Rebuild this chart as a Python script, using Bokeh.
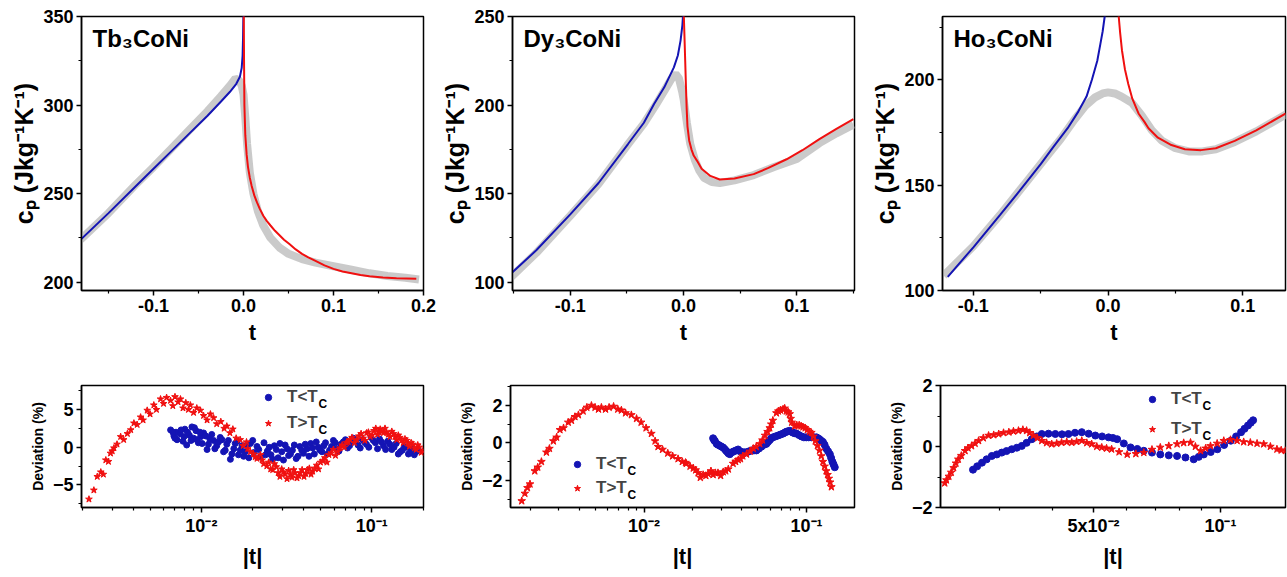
from bokeh.plotting import figure
from bokeh.layouts import column, row
from bokeh.models import Range1d, FixedTicker, Label, Legend, LegendItem, CustomJSTickFormatter
from bokeh.embed import file_html
from bokeh.resources import INLINE

FONT = "Liberation Sans"
BLUE = "#1414b4"
RED = "#f01010"
GRAY = "#c4c4c4"

# ---------------- top panels: c_p vs t ----------------
tb_gray_t = [-0.181, -0.15, -0.12, -0.1, -0.08, -0.06, -0.04, -0.025, -0.015, -0.009, -0.005, -0.002, 0.0, 0.002, 0.004, 0.007, 0.011, 0.016, 0.022, 0.03, 0.04, 0.05, 0.065, 0.08, 0.1, 0.12, 0.14, 0.16, 0.18, 0.195]
tb_gray_cp = [224, 239, 255, 265, 275.5, 286, 296.5, 305, 311, 315, 314, 311, 306, 293, 278, 262, 250, 240, 232, 225, 219.5, 216, 213, 211, 209, 207, 205, 203.5, 202.5, 201.5]
tb_blue_t = [-0.18, -0.15, -0.12, -0.1, -0.08, -0.06, -0.04, -0.025, -0.015, -0.008, -0.004, -0.002, -0.001, -0.0005, -0.0001]
tb_blue_cp = [224.5, 239, 254, 264, 274, 284, 294, 302, 307.5, 312, 316, 321, 328, 338, 352]
tb_red_t = [0.0003, 0.0006, 0.001, 0.002, 0.0035, 0.005, 0.007, 0.009, 0.012, 0.015, 0.018, 0.022, 0.026, 0.03, 0.035, 0.04, 0.045, 0.051, 0.058, 0.065, 0.072, 0.08, 0.09, 0.1, 0.11, 0.12, 0.13, 0.14, 0.155, 0.17, 0.192]
tb_red_cp = [352, 325, 300, 283, 272, 265, 259, 254.5, 249, 245, 241.5, 237.5, 234.5, 232, 229, 226.5, 224, 221.5, 218.5, 216, 214, 212, 209.5, 207.5, 206, 205, 204, 203.3, 202.6, 202.2, 202]

dy_gray_t = [-0.152, -0.13, -0.1, -0.075, -0.05, -0.035, -0.025, -0.017, -0.011, -0.007, -0.004, -0.001, 0.0003, 0.003, 0.006, 0.01, 0.014, 0.018, 0.025, 0.032, 0.045, 0.062, 0.08, 0.1, 0.12, 0.135, 0.15]
dy_gray_cp = [103, 116.5, 137.5, 155.5, 177, 189.5, 199.5, 208, 214.5, 217.6, 215, 207, 202.5, 190, 178, 169, 163, 159, 156.5, 156, 157.5, 160.5, 165, 169.5, 178.5, 184, 189]
dy_blue_t = [-0.152, -0.13, -0.1, -0.075, -0.049, -0.035, -0.026, -0.017, -0.0085, -0.005, -0.0026, -0.001, -0.0003]
dy_blue_cp = [105, 118, 138.3, 156, 178, 190, 200.6, 210, 221.3, 228, 236.4, 245, 252]
dy_red_t = [0.0002, 0.0008, 0.0015, 0.0022, 0.0028, 0.0035, 0.005, 0.007, 0.009, 0.012, 0.016, 0.0237, 0.032, 0.045, 0.062, 0.075, 0.091, 0.105, 0.12, 0.135, 0.15]
dy_red_cp = [252, 240, 225, 210, 198, 188, 180, 175, 171.5, 168.5, 164, 160, 158, 158.5, 161, 164.5, 169.4, 174.5, 180.8, 186.5, 192]

ho_gray_t = [-0.122, -0.1, -0.08, -0.06, -0.045, -0.035, -0.025, -0.017, -0.01, -0.004, 0.0, 0.005, 0.01, 0.0177, 0.025, 0.0325, 0.04, 0.05, 0.06, 0.07, 0.08, 0.094, 0.11, 0.132]
ho_gray_cp = [107, 121, 136, 152, 164, 172, 181, 187.5, 191.5, 193.5, 194, 193.5, 192, 189, 183, 176, 171, 167.5, 166, 166, 167, 170.5, 175.5, 183.5]
ho_blue_t = [-0.119, -0.1, -0.08, -0.066, -0.05, -0.041, -0.03, -0.022, -0.016, -0.012, -0.008, -0.0057, -0.004, -0.0025, -0.0015]
ho_blue_cp = [106.5, 120.5, 136, 147, 160, 167.8, 177, 185, 192, 200, 209, 217, 223, 230, 240]
ho_red_t = [0.0065, 0.0079, 0.009, 0.0103, 0.0125, 0.015, 0.018, 0.0226, 0.027, 0.03, 0.037, 0.047, 0.057, 0.069, 0.08, 0.094, 0.11, 0.132]
ho_red_cp = [240, 230, 222, 214, 205, 198, 191, 184, 180, 177, 172.5, 169, 167, 166.6, 167.5, 171, 176, 184]

# ---------------- bottom panels: deviation vs |t| ----------------
tb_dev_red_t = [0.00219, 0.00234, 0.00245, 0.00257, 0.00266, 0.00275, 0.00285, 0.00293, 0.00300, 0.00307, 0.00320, 0.00336, 0.00350, 0.00368, 0.00385, 0.00402, 0.00420, 0.00440, 0.00455, 0.00481, 0.00500, 0.00526, 0.00545, 0.00576, 0.00600, 0.00625, 0.00659, 0.00680, 0.00700, 0.00730, 0.00754, 0.00780, 0.00810, 0.00840, 0.00862, 0.00900, 0.00940, 0.00987, 0.0103, 0.0108, 0.0113, 0.0118, 0.0123, 0.0130, 0.0136, 0.0141, 0.0147, 0.0153, 0.0160, 0.0169, 0.0176, 0.0184, 0.0194, 0.0202, 0.0212, 0.0222, 0.0232, 0.0242, 0.0255, 0.0268, 0.0282, 0.0296, 0.0310, 0.0325, 0.0340, 0.0355, 0.0372, 0.0390, 0.0410, 0.0430, 0.0450, 0.0475, 0.0500, 0.0530, 0.0560, 0.0595, 0.0630, 0.0670, 0.0710, 0.0743, 0.0790, 0.0840, 0.0890, 0.0932, 0.0980, 0.1030, 0.1080, 0.1120, 0.1170, 0.1220, 0.1280, 0.1340, 0.1400, 0.1460, 0.1530, 0.1600, 0.1660, 0.1740, 0.1820, 0.1900, 0.1990,
                0.0187, 0.0207, 0.0227, 0.0248, 0.0262, 0.0275, 0.0289, 0.0303, 0.0318, 0.0333, 0.0348, 0.0364, 0.0381, 0.0400, 0.0420, 0.0440, 0.0462, 0.0487, 0.0515, 0.0545, 0.0577, 0.0612, 0.0650, 0.0690, 0.0727, 0.0765, 0.0815, 0.0865, 0.0910, 0.0955, 0.1005, 0.1055, 0.1100, 0.1145, 0.1195, 0.1250, 0.1310, 0.1370, 0.1430, 0.1495, 0.1565, 0.1630, 0.1700, 0.1780, 0.1860, 0.1950]
tb_dev_red = [-6.9, -5.7, -3.9, -3.3, -3.6, -1.7, -1.9, -0.8, -0.5, -0.1, 0.4, 1.4, 1.0, 1.8, 2.3, 3.2, 3.0, 4.0, 3.6, 4.9, 4.4, 5.6, 5.0, 6.4, 5.8, 6.6, 6.2, 5.5, 6.7, 6.0, 6.4, 5.2, 5.9, 5.0, 5.6, 4.6, 5.2, 4.9, 4.2, 3.6, 4.4, 3.9, 3.1, 3.4, 2.5, 2.8, 1.9, 2.4, 1.2, 1.0, 0.2, 0.7, -0.6, -0.9, -1.5, -1.0, -2.2, -2.5, -2.9, -2.2, -3.4, -2.9, -3.6, -3.1, -4.0, -3.4, -3.8, -3.0, -3.5, -2.8, -3.2, -2.4, -2.0, -1.4, -1.0, -0.3, -0.6, 0.3, 0.6, 1.0, 0.6, 1.5, 1.2, 1.9, 1.4, 2.2, 1.7, 2.4, 1.9, 2.0, 1.4, 1.8, 1.0, 1.3, 0.6, 0.9, 0.1, 0.4, -0.3, 0.0, -0.5,
              -0.2, -1.3, -1.7, -2.0, -3.0, -2.6, -3.9, -3.3, -4.2, -3.6, -3.0, -4.1, -3.4, -3.9, -3.0, -3.6, -2.8, -2.9, -1.8, -2.0, -0.8, -1.1, -0.1, 0.0, 0.7, 1.3, 1.0, 1.8, 0.9, 2.0, 1.6, 2.5, 2.0, 2.1, 2.5, 1.7, 2.1, 1.4, 1.6, 0.9, 1.1, 0.5, 0.6, -0.1, 0.3, -0.7]
tb_dev_blue_t = [0.0066, 0.0069, 0.0071, 0.0072, 0.0075, 0.0078, 0.0080, 0.0082, 0.0085, 0.0088, 0.0090, 0.0093, 0.0096, 0.0099, 0.0103, 0.0108, 0.0112, 0.0118, 0.0123, 0.0129, 0.0135, 0.0141, 0.0148, 0.0155, 0.0162, 0.0169, 0.0177, 0.0185, 0.0194, 0.0203, 0.0212, 0.0222, 0.0233, 0.0244, 0.0256, 0.0268, 0.0282, 0.0296, 0.0310, 0.0325, 0.0342, 0.0360, 0.0378, 0.0397, 0.0417, 0.0438, 0.0460, 0.0485, 0.0510, 0.0535, 0.0565, 0.0595, 0.0625, 0.0660, 0.0700, 0.0740, 0.0780, 0.0830, 0.0880, 0.0930, 0.0990, 0.1050, 0.1110, 0.1170, 0.1240, 0.1310, 0.1390, 0.1470, 0.1550, 0.1640, 0.1730, 0.1820,
                 0.0068, 0.0070, 0.0076, 0.0079, 0.0083, 0.0087, 0.0091, 0.0094, 0.0098, 0.0101, 0.0106, 0.0110, 0.0115, 0.0120, 0.0126, 0.0132, 0.0138, 0.0144, 0.0151, 0.0158, 0.0165, 0.0173, 0.0181, 0.0190,
                 0.0200, 0.0217, 0.0238, 0.0250, 0.0262, 0.0275, 0.0289, 0.0303, 0.0318, 0.0333, 0.0351, 0.0369, 0.0388, 0.0407, 0.0428, 0.0449, 0.0472, 0.0497, 0.0522, 0.0550, 0.0580, 0.0610, 0.0642, 0.0680, 0.0720, 0.0760, 0.0805, 0.0855, 0.0905, 0.0960, 0.1020, 0.1080, 0.1140, 0.1205, 0.1275, 0.1350, 0.1430, 0.1510, 0.1595, 0.1685, 0.1775, 0.1870]
tb_dev_blue = [2.3, 1.5, 2.0, 1.0, 1.8, 0.8, 2.4, 0.3, 1.6, 2.7, 1.2, 2.2, 0.6, 1.4, 1.9, -0.3, 1.1, 0.9, 0.2, 1.3, -0.6, 0.4, -1.6, -0.2, 0.8, -0.4, -1.2, 0.3, 0.5, -0.7, 0.1, -1.3, 0.6, -0.5, -1.0, 0.2, -1.4, -0.6, 0.3, -1.1, -0.4, -1.5, 0.1, -0.8, -0.2, 0.5, -0.9, 0.0, -0.6, 0.6, -0.4, 0.9, -0.2, 0.4, 1.0, 0.2, 1.2, 0.3, 1.0, 0.4, 1.3, 0.6, 1.1, 0.2, 0.8, -0.3, 0.5, -0.6, 0.1, -0.9, -0.2, -0.6,
               2.0, 1.2, 2.3, 1.4, 2.0, 0.9, 2.6, 1.0, 2.0, 0.5, 1.5, 0.4, 1.7, -0.2, 0.7, 1.0, -0.4, 0.9, -0.9, 0.5, -1.0, 0.2, -0.6, -1.4,
               0.9, -0.3, -1.0, 0.0, -1.6, -0.3, 0.5, -1.7, -0.2, -0.9, 0.3, -1.2, -0.4, 0.4, -1.2, -0.1, 0.7, -0.4, 0.2, -0.9, 0.1, 0.6, -0.5, 0.7, -0.1, 0.6, 0.9, -0.1, 0.7, 0.0, 0.9, -0.2, 0.7, -0.3, 0.4, 0.0, -0.9, -0.4, 0.0, -0.6, -1.0, -0.3]

dy_dev_red_t = [0.00177, 0.00185, 0.00192, 0.00199, 0.00213, 0.00222, 0.00234, 0.00251, 0.00262, 0.00277, 0.00290, 0.00304, 0.00320, 0.00342, 0.00358, 0.00376, 0.00395, 0.00422, 0.00445, 0.00475, 0.00500, 0.00525, 0.00547, 0.00580, 0.00610, 0.00650, 0.00690, 0.00726, 0.00770, 0.00836, 0.0090, 0.0096, 0.0103, 0.0111, 0.0117, 0.0122, 0.0130, 0.0140, 0.0150, 0.0162, 0.0172, 0.0182, 0.0192, 0.0201, 0.0215, 0.0231, 0.0248, 0.0266, 0.0285, 0.0307, 0.0330, 0.0353, 0.0380, 0.0405, 0.0427, 0.0470, 0.0515, 0.0555, 0.0593, 0.0620, 0.0652, 0.0690, 0.0716, 0.0750, 0.0787, 0.0810, 0.0845, 0.0900, 0.0950, 0.1010, 0.1070, 0.1130, 0.1200, 0.1260, 0.1320, 0.1370, 0.1420,
                0.0180, 0.0208, 0.0240, 0.0275, 0.0318, 0.0366, 0.0392, 0.0450, 0.0490, 0.0535, 0.0575, 0.0606, 0.0670, 0.0733, 0.0770, 0.0798, 0.0870, 0.0925, 0.0980, 0.1040, 0.1100, 0.1165, 0.1230, 0.1290, 0.1345, 0.1395, 0.0222, 0.0258, 0.0296]
dy_dev_red = [-3.1, -2.7, -2.4, -2.2, -1.5, -1.3, -1.0, -0.5, -0.3, 0.1, 0.3, 0.7, 0.8, 1.1, 1.2, 1.4, 1.5, 1.7, 1.9, 2.0, 1.9, 1.8, 1.9, 1.8, 1.9, 1.95, 1.8, 1.75, 1.6, 1.5, 1.3, 1.1, 0.8, 0.5, 0.1, -0.2, -0.35, -0.55, -0.7, -0.85, -1.0, -1.1, -1.25, -1.35, -1.6, -1.7, -1.65, -1.7, -1.6, -1.55, -1.4, -1.1, -0.9, -0.7, -0.6, -0.3, -0.05, 0.4, 0.8, 1.2, 1.6, 1.75, 1.8, 1.7, 1.55, 1.1, 0.9, 0.95, 0.85, 0.7, 0.55, 0.1, -0.4, -1.0, -1.5, -1.9, -2.35,
              -1.05, -1.45, -1.75, -1.6, -1.5, -1.0, -0.85, -0.45, -0.2, 0.15, 0.6, 1.0, 1.7, 1.85, 1.65, 1.3, 0.95, 0.9, 0.8, 0.6, 0.35, -0.15, -0.7, -1.25, -1.7, -2.1, -1.85, -1.5, -1.75]
dy_dev_blue_t = [0.0266, 0.0273, 0.0280, 0.0293, 0.0307, 0.0322, 0.0337, 0.0357, 0.0379, 0.0402, 0.0427, 0.0458, 0.0491, 0.0527, 0.0565, 0.0592, 0.0621, 0.0668, 0.0716, 0.0750, 0.0787, 0.0825, 0.0866, 0.0930, 0.0995, 0.1070, 0.1150, 0.1200, 0.1260, 0.1320, 0.1390, 0.1440, 0.1490,
                 0.0270, 0.0286, 0.0300, 0.0315, 0.0330, 0.0347, 0.0368, 0.0390, 0.0414, 0.0442, 0.0474, 0.0509, 0.0546, 0.0578, 0.0606, 0.0644, 0.0692, 0.0733, 0.0768, 0.0806, 0.0845, 0.0898, 0.0962, 0.1030, 0.1110, 0.1175, 0.1230, 0.1290, 0.1355, 0.1415, 0.1465]
dy_dev_blue = [0.25, 0.1, -0.05, -0.15, -0.25, -0.45, -0.6, -0.45, -0.35, -0.5, -0.5, -0.4, -0.4, -0.2, -0.05, 0.15, 0.3, 0.4, 0.5, 0.6, 0.65, 0.55, 0.5, 0.35, 0.3, 0.3, 0.3, 0.2, 0.05, -0.3, -0.6, -1.0, -1.3,
               0.15, -0.1, -0.2, -0.35, -0.55, -0.5, -0.4, -0.45, -0.5, -0.45, -0.4, -0.3, -0.1, 0.05, 0.25, 0.35, 0.45, 0.55, 0.62, 0.6, 0.52, 0.42, 0.3, 0.3, 0.3, 0.25, 0.12, -0.1, -0.45, -0.8, -1.15]

ho_dev_red_t = [0.0222, 0.0227, 0.0233, 0.0239, 0.0248, 0.0257, 0.0267, 0.0282, 0.0298, 0.0315, 0.0332, 0.0347, 0.0360, 0.0377, 0.0398, 0.0420, 0.0444, 0.0469, 0.0495, 0.0523, 0.0552, 0.0601, 0.0658, 0.0720, 0.0789, 0.0849, 0.0897, 0.0947, 0.1018, 0.1095, 0.1177, 0.1266, 0.1361, 0.1425,
                0.0224, 0.0230, 0.0236, 0.0243, 0.0252, 0.0262, 0.0274, 0.0290, 0.0306, 0.0323, 0.0340, 0.0353, 0.0368, 0.0387, 0.0409, 0.0432, 0.0456, 0.0482, 0.0509, 0.0537, 0.0575, 0.0630, 0.0688, 0.0754, 0.0818, 0.0872, 0.0922, 0.0982, 0.1056, 0.1135, 0.1221, 0.1313, 0.1393]
ho_dev_red = [-1.2, -0.98, -0.7, -0.42, -0.14, 0.02, 0.19, 0.36, 0.41, 0.47, 0.52, 0.52, 0.36, 0.19, 0.08, 0.13, 0.13, 0.19, 0.08, -0.03, -0.09, -0.26, -0.2, -0.03, 0.08, 0.13, -0.14, 0.02, 0.19, 0.19, 0.13, 0.08, -0.09, -0.14,
              -1.1, -0.85, -0.55, -0.3, -0.05, 0.1, 0.28, 0.38, 0.45, 0.5, 0.55, 0.45, 0.28, 0.12, 0.1, 0.15, 0.16, 0.12, 0.0, -0.06, -0.18, -0.24, -0.1, 0.02, 0.12, 0.0, -0.06, 0.1, 0.22, 0.15, 0.1, 0.0, -0.12]
ho_dev_blue_t = [0.0259, 0.0272, 0.0287, 0.0303, 0.0320, 0.0338, 0.0357, 0.0377, 0.0406, 0.0436, 0.0469, 0.0505, 0.0543, 0.0569, 0.0612, 0.0658, 0.0720, 0.0789, 0.0864, 0.0913, 0.0983, 0.1058, 0.1119, 0.1162, 0.1195,
                 0.0265, 0.0279, 0.0295, 0.0311, 0.0329, 0.0347, 0.0367, 0.0391, 0.0421, 0.0452, 0.0487, 0.0524, 0.0556, 0.0590, 0.0635, 0.0688, 0.0754, 0.0826, 0.0888, 0.0948, 0.1020, 0.1089, 0.1140, 0.1180]
ho_dev_blue = [-0.76, -0.53, -0.31, -0.2, -0.09, 0.02, 0.24, 0.41, 0.41, 0.41, 0.47, 0.36, 0.3, 0.24, -0.03, -0.14, -0.26, -0.31, -0.42, -0.26, -0.09, 0.19, 0.47, 0.69, 0.86,
               -0.65, -0.42, -0.26, -0.15, -0.04, 0.12, 0.33, 0.42, 0.4, 0.45, 0.42, 0.33, 0.28, 0.1, -0.08, -0.2, -0.29, -0.36, -0.34, -0.18, 0.05, 0.33, 0.58, 0.78]

TOP_H = 358
BOT_H = 219
WIDTHS = [438, 430, 419]
LEFTS = [81, 72, 72]
RIGHTS = [15, 14, 2]

top_fmt = CustomJSTickFormatter(code="return tick.toFixed(1);")
log_fmt = CustomJSTickFormatter(code="""
if (Math.abs(tick - 0.01) < 1e-9) { return "10\u207b\u00b2"; }
if (Math.abs(tick - 0.1) < 1e-9) { return "10\u207b\u00b9"; }
if (Math.abs(tick - 0.05) < 1e-9) { return "5x10\u207b\u00b2"; }
return "";
""")


def style(p, tick_size, label_size):
    p.outline_line_color = "black"
    p.outline_line_width = 1.5
    p.xgrid.visible = False
    p.ygrid.visible = False
    p.background_fill_color = "white"
    p.border_fill_color = "white"
    for ax in (p.xaxis[0], p.yaxis[0]):
        ax.axis_line_width = 1.5
        ax.axis_line_color = "black"
        ax.major_tick_line_width = 1.5
        ax.minor_tick_line_width = 1.2
        ax.major_tick_out = 5
        ax.major_tick_in = 0
        ax.minor_tick_out = 3
        ax.minor_tick_in = 0
        ax.major_label_standoff = 3
        ax.major_label_text_font = FONT
        ax.major_label_text_font_style = "bold"
        ax.major_label_text_font_size = f"{tick_size}px"
        ax.major_label_text_color = "black"
        ax.axis_label_text_font = FONT
        ax.axis_label_text_font_style = "bold"
        ax.axis_label_text_color = "black"
    p.xaxis[0].axis_label_text_font_size = "22px"
    p.yaxis[0].axis_label_text_font_size = f"{label_size}px"


def top_panel(i, xr, yr, xt, xm, yt, ym, title, gt, gc, bt, bc, rt, rc):
    p = figure(width=WIDTHS[i], height=TOP_H, x_range=Range1d(*xr), y_range=Range1d(*yr),
               output_backend="svg", toolbar_location=None,
               min_border_left=LEFTS[i], min_border_right=RIGHTS[i], min_border_top=16, min_border_bottom=68)
    p.line(gt, gc, line_color=GRAY, line_width=8, line_alpha=0.9)
    p.line(bt, bc, line_color=BLUE, line_width=2)
    p.line(rt, rc, line_color=RED, line_width=2)
    p.xaxis.ticker = FixedTicker(ticks=xt, minor_ticks=xm)
    p.yaxis.ticker = FixedTicker(ticks=yt, minor_ticks=ym)
    p.xaxis.formatter = top_fmt
    p.xaxis.axis_label = "t"
    p.yaxis.axis_label = "c\u209a (Jkg\u207b\u00b9K\u207b\u00b9)"
    p.yaxis.axis_label_standoff = 2
    style(p, 18, 25)
    p.add_layout(Label(x=11, y=266, x_units="screen", y_units="screen", text=title,
                       text_font=FONT, text_font_style="bold", text_font_size="24px",
                       text_baseline="top", text_color="black"))
    return p


def bottom_panel(i, xr, yr, xt, xm, yt, ym, bt, bd, rt, rd, loc, spacing, bsize, rsize):
    p = figure(width=WIDTHS[i], height=BOT_H, x_range=Range1d(*xr), y_range=Range1d(*yr),
               x_axis_type="log", output_backend="svg", toolbar_location=None,
               min_border_left=LEFTS[i], min_border_right=RIGHTS[i], min_border_top=27, min_border_bottom=70)
    rb = p.scatter(bt, bd, marker="circle", size=bsize, fill_color=BLUE, line_color=BLUE)
    rr = p.scatter(rt, rd, marker="star", size=rsize, fill_color=RED, line_color=RED)
    p.xaxis.ticker = FixedTicker(ticks=xt, minor_ticks=xm)
    p.yaxis.ticker = FixedTicker(ticks=yt, minor_ticks=ym)
    p.xaxis.formatter = log_fmt
    p.xaxis.axis_label = "|t|"
    p.yaxis.axis_label = "Deviation (%)"
    p.yaxis.axis_label_standoff = 4
    style(p, 18, 14)
    leg = Legend(items=[LegendItem(label="T<T", renderers=[rb]), LegendItem(label="T>T", renderers=[rr])],
                 location=loc, orientation="vertical", spacing=spacing, padding=0, margin=0,
                 glyph_width=16, glyph_height=20, label_height=20, label_standoff=11,
                 label_text_font=FONT, label_text_font_style="bold", label_text_font_size="17px",
                 background_fill_alpha=0, border_line_alpha=0)
    p.add_layout(leg)
    sx = loc[0] + 16 + 11 + 31
    for yy in (loc[1] + 40 + spacing - 10 - 6, loc[1] + 10 - 6):
        p.add_layout(Label(x=sx, y=yy, x_units="screen", y_units="screen", text="C",
                           text_font=FONT, text_font_style="bold", text_font_size="12px",
                           text_baseline="middle", text_color="black"))
    return p


lin_minor = [-0.15, -0.05, 0.05, 0.15]
p1 = top_panel(0, (-0.18, 0.2), (195.3, 350), [-0.1, 0.0, 0.1, 0.2], lin_minor, [200, 250, 300, 350], [225, 275, 325],
               "Tb\u2083CoNi", tb_gray_t, tb_gray_cp, tb_blue_t, tb_blue_cp, tb_red_t, tb_red_cp)
p2 = top_panel(1, (-0.151, 0.151), (95.3, 250), [-0.1, 0.0, 0.1], lin_minor, [100, 150, 200, 250], [125, 175, 225],
               "Dy\u2083CoNi", dy_gray_t, dy_gray_cp, dy_blue_t, dy_blue_cp, dy_red_t, dy_red_cp)
p3 = top_panel(2, (-0.1229, 0.1317), (100, 230), [-0.1, 0.0, 0.1], [-0.05, 0.05], [100, 150, 200], [125, 175, 225],
               "Ho\u2083CoNi", ho_gray_t, ho_gray_cp, ho_blue_t, ho_blue_cp, ho_red_t, ho_red_cp)

log_minor = [0.002, 0.003, 0.004, 0.005, 0.006, 0.007, 0.008, 0.009, 0.02, 0.03, 0.04, 0.05, 0.06, 0.07, 0.08, 0.09, 0.2]
q1 = bottom_panel(0, (0.00198, 0.201), (-8.0, 8.2), [0.01, 0.1], log_minor, [-5, 0, 5], [-7.5, -2.5, 2.5, 7.5],
                  tb_dev_blue_t, tb_dev_blue, tb_dev_red_t, tb_dev_red, (179, 74), 6, 6, 7)
q2 = bottom_panel(1, (0.00151, 0.197), (-3.45, 3.07), [0.01, 0.1], [0.002, 0.003, 0.004, 0.005, 0.006, 0.007, 0.008, 0.009, 0.02, 0.03, 0.04, 0.05, 0.06, 0.07, 0.08, 0.09],
                  [-2, 0, 2], [-3, -1, 1, 3], dy_dev_blue_t, dy_dev_blue, dy_dev_red_t, dy_dev_red, (59, 9), 4, 7, 8)
q3 = bottom_panel(2, (0.02169, 0.1426), (-2, 2), [0.05, 0.1], [0.03, 0.04, 0.06, 0.07, 0.08, 0.09],
                  [-2, 0, 2], [-1, 1], ho_dev_blue_t, ho_dev_blue, ho_dev_red_t, ho_dev_red, (204, 68), 10, 7, 8)

layout = column(row(p1, p2, p3), row(q1, q2, q3))
open("out.html", "w").write(file_html(layout, INLINE))
